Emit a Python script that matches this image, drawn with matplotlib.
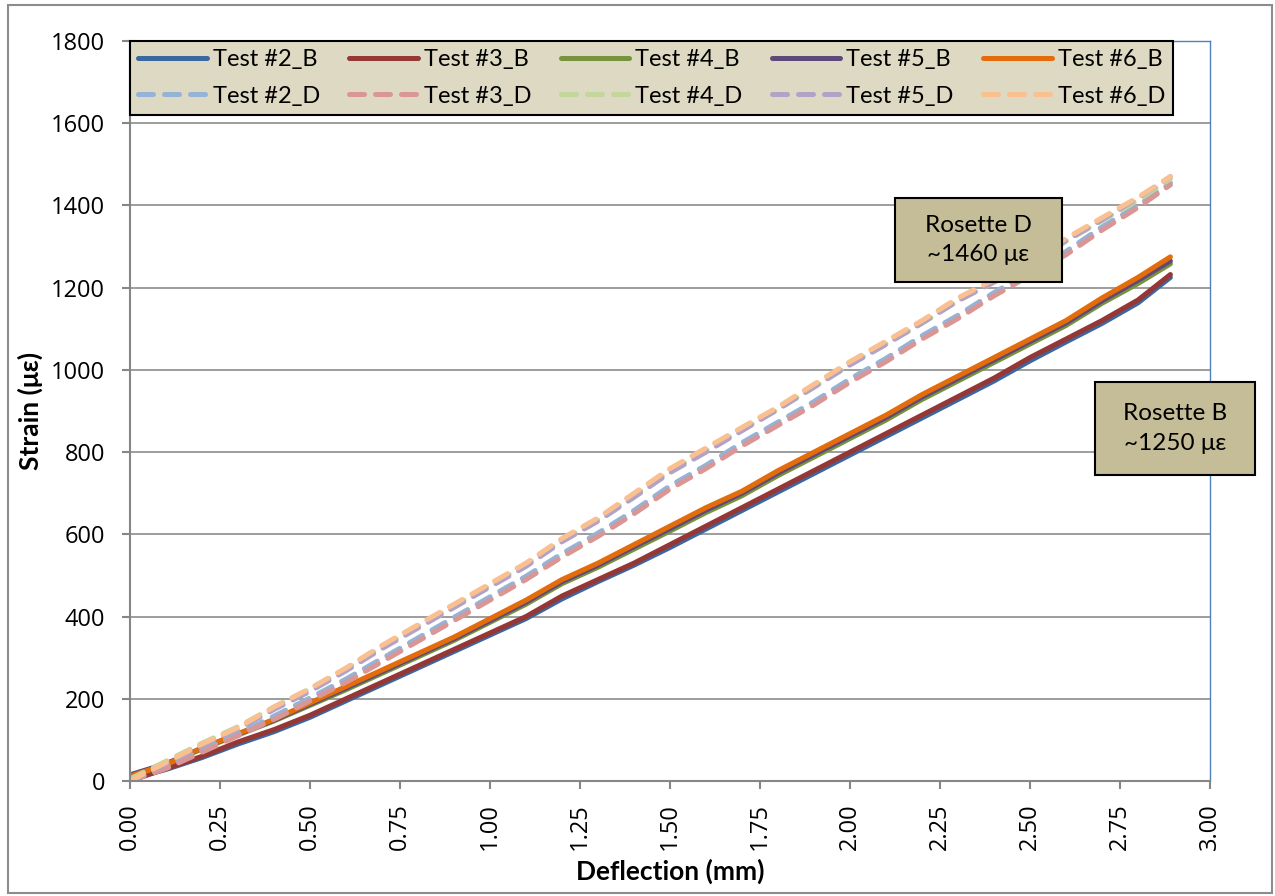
import matplotlib.pyplot as plt
from matplotlib.patches import Rectangle

# deflection (mm) sample points shared by all series
deflection = [0.0, 0.1, 0.2, 0.3, 0.4, 0.5, 0.6, 0.7, 0.8, 0.9,
              1.0, 1.1, 1.2, 1.3, 1.4, 1.5, 1.6, 1.7, 1.8, 1.9,
              2.0, 2.1, 2.2, 2.3, 2.4, 2.5, 2.6, 2.7, 2.8, 2.89]

# strain (microstrain), rosette B
test2_b = [5, 28, 57, 90, 120, 155, 195, 235, 275, 315,
           355, 395, 443, 485, 525, 568, 613, 658, 703, 748,
           793, 838, 883, 928, 973, 1022, 1068, 1113, 1163, 1225]
test3_b = [0, 30, 60, 95, 125, 160, 200, 240, 280, 320,
           360, 400, 450, 490, 530, 575, 620, 665, 710, 755,
           800, 845, 890, 935, 980, 1030, 1075, 1120, 1170, 1232]
test4_b = [10, 40, 78, 112, 146, 184, 222, 262, 302, 342,
           386, 430, 480, 520, 564, 608, 653, 694, 743, 788,
           833, 878, 928, 973, 1018, 1063, 1108, 1162, 1210, 1258]
test5_b = [15, 42, 80, 114, 148, 187, 226, 266, 306, 346,
           390, 435, 485, 525, 570, 614, 659, 700, 749, 794,
           839, 884, 934, 979, 1024, 1069, 1114, 1168, 1218, 1265]
test6_b = [12, 40, 80, 115, 150, 190, 230, 270, 310, 350,
           395, 440, 490, 530, 575, 620, 665, 705, 755, 800,
           845, 890, 940, 985, 1030, 1075, 1120, 1175, 1225, 1275]

# strain (microstrain), rosette D
test2_d = [0, 35, 75, 115, 158, 202, 248, 298, 348, 398,
           448, 498, 553, 603, 658, 718, 768, 823, 873, 923,
           978, 1028, 1083, 1133, 1188, 1238, 1288, 1348, 1400, 1455]
test3_d = [0, 30, 70, 110, 150, 195, 240, 290, 340, 390,
           440, 490, 545, 595, 650, 710, 760, 815, 865, 915,
           970, 1020, 1075, 1125, 1180, 1230, 1280, 1340, 1395, 1450]
test4_d = [5, 48, 92, 132, 180, 224, 272, 326, 376, 426,
           476, 526, 585, 635, 694, 754, 804, 854, 904, 958,
           1013, 1063, 1113, 1168, 1213, 1258, 1313, 1363, 1413, 1465]
test5_d = [0, 42, 86, 126, 174, 218, 268, 322, 372, 422,
           472, 522, 582, 632, 690, 750, 800, 852, 904, 958,
           1012, 1062, 1114, 1168, 1214, 1260, 1314, 1365, 1418, 1470]
test6_d = [0, 45, 90, 130, 180, 225, 275, 330, 380, 430,
           480, 530, 590, 640, 700, 760, 810, 860, 910, 965,
           1020, 1070, 1120, 1175, 1220, 1265, 1320, 1370, 1420, 1470]

b_series = [("Test #2_B", test2_b, "#3B67A1"), ("Test #3_B", test3_b, "#953735"),
            ("Test #4_B", test4_b, "#77933C"), ("Test #5_B", test5_b, "#5F497A"),
            ("Test #6_B", test6_b, "#E46C0A")]
d_series = [("Test #2_D", test2_d, "#95B3D7"), ("Test #3_D", test3_d, "#D99694"),
            ("Test #4_D", test4_d, "#C3D69B"), ("Test #5_D", test5_d, "#B3A2C7"),
            ("Test #6_D", test6_d, "#FAC090")]

plt.rcParams['font.family'] = ['Lato', 'DejaVu Sans']

fig = plt.figure(figsize=(12.75, 8.96), dpi=100)
ax = fig.add_axes([130 / 1275, 1 - 781 / 896, 1080 / 1275, 740 / 896])

handles = []
for nb, yb, cb in b_series:
    hb, = ax.plot(deflection, yb, color=cb, lw=3.6, label=nb, solid_capstyle='round')
    handles.append(hb)
    handles.append(None)
for i, (nd, yd, cd) in enumerate(d_series):
    hd, = ax.plot(deflection, yd, color=cd, lw=3.6, label=nd, dashes=(3.0, 2.2),
                  dash_capstyle='round')
    handles[2 * i + 1] = hd

ax.set_xlim(0, 3.0)
ax.set_ylim(0, 1800)
ax.set_xticks([i * 0.25 for i in range(13)])
ax.set_xticklabels(["%.2f" % (i * 0.25) for i in range(13)], rotation=90,
                   family=['Open Sans', 'DejaVu Sans'])
ax.set_yticks(range(0, 1801, 200))
ax.set_yticklabels([str(v) for v in range(0, 1801, 200)],
                   family=['Open Sans', 'DejaVu Sans'])
ax.tick_params(labelsize=17, direction='out', length=6, color='#868686', width=1.5)
ax.tick_params(axis='y', pad=12)
ax.tick_params(axis='x', pad=10)
ax.yaxis.grid(True, color='#8C8C8C', lw=1.2)
ax.set_axisbelow(True)
for s in ['left', 'bottom']:
    ax.spines[s].set_color('#868686')
    ax.spines[s].set_linewidth(1.5)
for s in ['top', 'right']:
    ax.spines[s].set_color('#4F81BD')
    ax.spines[s].set_linewidth(1)

ax.set_xlabel("Deflection (mm)", fontsize=19, fontweight='bold', labelpad=6)
ax.set_ylabel("Strain (με)", fontsize=19, fontweight='bold', labelpad=6)

leg = ax.legend(handles=handles, ncol=5, loc='upper left', bbox_to_anchor=(0.0, 1.0),
                fontsize=17, frameon=True, fancybox=False, handlelength=2.9,
                columnspacing=1.25, handletextpad=0.25, borderpad=0.35, labelspacing=0.65,
                borderaxespad=0.0)
leg.get_frame().set_facecolor('#DDD9C3')
leg.get_frame().set_edgecolor('black')
leg.get_frame().set_linewidth(1.5)
leg.get_frame().set_alpha(1)

# callout boxes (deflection / strain extents)
callouts = [("Rosette D\n~1460 με", 2.125, 2.589, 1214, 1418),
            ("Rosette B\n~1250 με", 2.681, 3.125, 745, 971)]
for txt, x0, x1, y0, y1 in callouts:
    ax.add_patch(Rectangle((x0, y0), x1 - x0, y1 - y0, fc='#C4BD97', ec='black',
                           lw=1.5, clip_on=False, zorder=5))
    ax.text((x0 + x1) / 2, (y0 + y1) / 2, txt, fontsize=17.5, ha='center', va='center',
            linespacing=1.5, zorder=6)

fig.patches.append(Rectangle((8 / 1275, 3 / 896), 1264 / 1275, 888 / 896,
                             transform=fig.transFigure, fill=False, ec='#8C8C8C', lw=1.5))

fig.savefig("out.png", dpi=100)
